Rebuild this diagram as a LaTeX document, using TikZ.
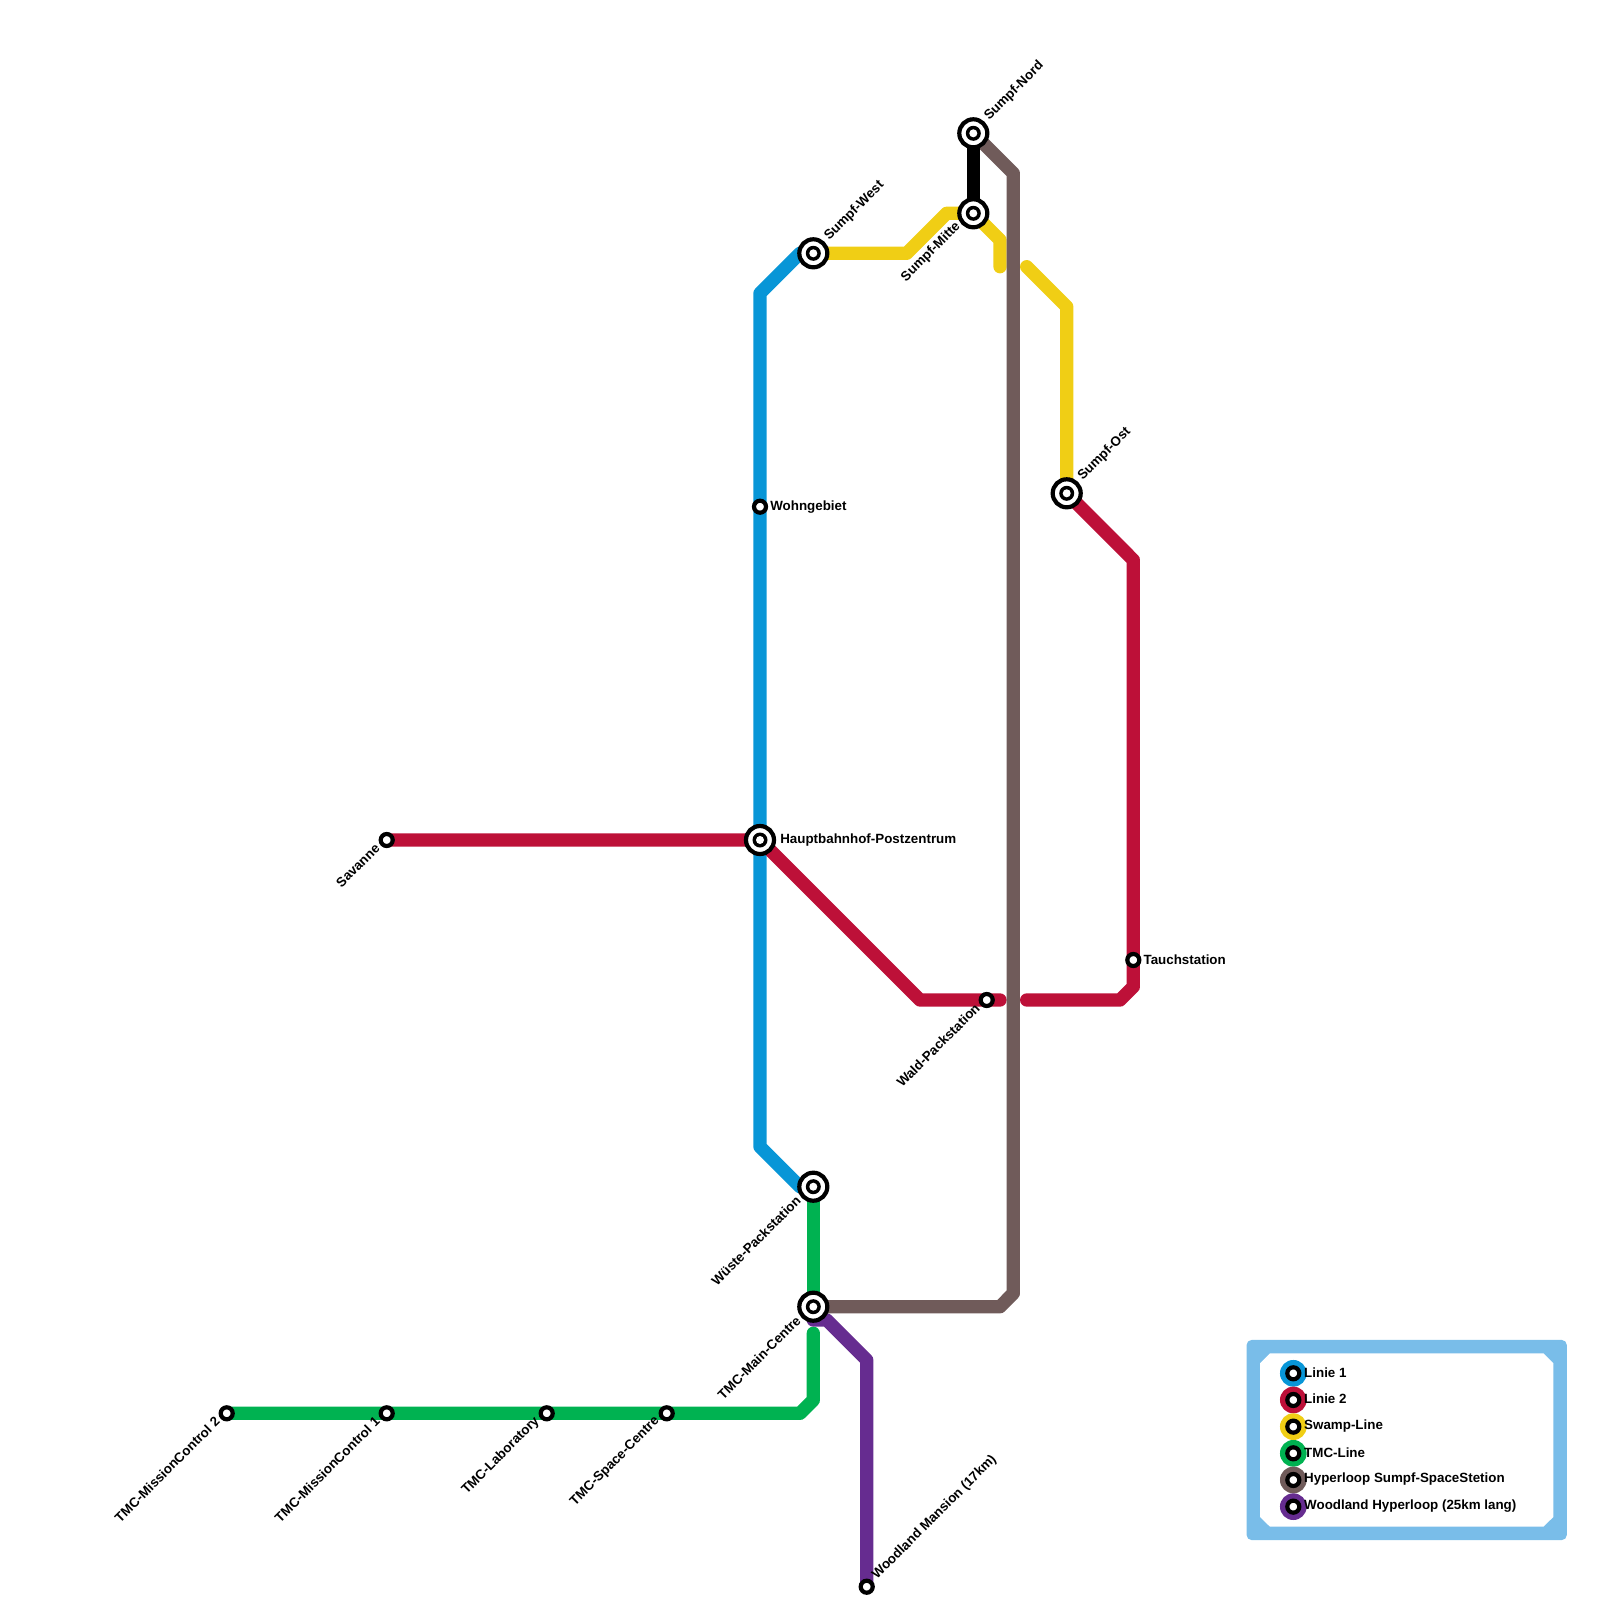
\documentclass[tikz,border=0pt]{standalone}
\usepackage{fontspec}
\setmainfont{Liberation Sans}
\usepackage{xcolor}
\definecolor{lnblue}{RGB}{8,150,215}
\definecolor{lnred}{RGB}{189,16,56}
\definecolor{lnyellow}{RGB}{240,206,21}
\definecolor{lngreen}{RGB}{0,178,81}
\definecolor{lnbrown}{RGB}{112,91,90}
\definecolor{lnpurple}{RGB}{102,44,144}
\definecolor{lnframe}{RGB}{121,189,233}
\usetikzlibrary{calc}
\pgfdeclarelayer{lines}
\pgfsetlayers{lines,main}

\begin{document}
\begin{tikzpicture}[
  x=0.01cm, y=-0.01cm,
  font=\fontsize{3.8}{4.2}\selectfont\bfseries,
  track/.style={line width=0.1333cm, line cap=round, line join=round},
  stat/.style={circle, draw=black, fill=white, line width=0.042cm, minimum size=0.12cm, inner sep=0pt},
  hub/.style={circle, draw=black, fill=white, line width=0.042cm, minimum size=0.28cm, inner sep=0pt,
    path picture={\fill[black] (path picture bounding box.center) circle (0.075cm);
      \fill[white] (path picture bounding box.center) circle (0.04cm);}},
  legdot/.style={circle, fill=#1, minimum size=0.2667cm, inner sep=0pt},
  labne/.style={rotate=45, yshift=-0.025cm, anchor=west, inner sep=0pt, label distance=0.05cm},
  labsw/.style={rotate=45, yshift=0.045cm, anchor=east, inner sep=0pt, label distance=0.03cm},
  labe/.style={anchor=west, inner sep=0pt, label distance=0.035cm},
  labs/.style={anchor=west, inner sep=0pt, label distance=0.015cm}]

  \useasboundingbox (0,0) rectangle (1600,1600);

  % --- interchange stations ---
  \node[hub, label={[labne]45:Sumpf-Nord}]  (nord)  at (973.3,133.3) {};
  \node[hub, label={[labsw]225:Sumpf-Mitte}] (mitte) at (973.3,213.3) {};
  \node[hub, label={[labne]45:Sumpf-West}]  (west)  at (813.3,253.3) {};
  \node[hub, label={[labne]45:Sumpf-Ost}]   (ost)   at (1066.7,493.3) {};
  \node[hub, label={[labe]0:Hauptbahnhof-Postzentrum}] (haupt) at (760,840) {};
  \node[hub, label={[labsw]225:Wüste-Packstation}] (wueste) at (813.3,1186.7) {};
  \node[hub, label={[labsw]225:TMC-Main-Centre}]   (main)   at (813.3,1306.7) {};

  % --- plain stations ---
  \node[stat, label={[labs]0:Wohngebiet}]   (wohn)  at (760,506.7) {};
  \node[stat, label={[labsw]225:Savanne}]   (sav)   at (386.7,840) {};
  \node[stat, label={[labs]0:Tauchstation}] (tauch) at (1133.3,960) {};
  \node[stat, label={[labsw]225:Wald-Packstation}] (wald) at (986.7,1000) {};
  \node[stat, label={[labsw]225:TMC-MissionControl 2}] (mc2) at (226.7,1413.3) {};
  \node[stat, label={[labsw]225:TMC-MissionControl 1}] (mc1) at (386.7,1413.3) {};
  \node[stat, label={[labsw]225:TMC-Laboratory}]    (lab)   at (546.7,1413.3) {};
  \node[stat, label={[labsw]225:TMC-Space-Centre}]  (space) at (666.7,1413.3) {};
  \node[stat, label={[labne]45:Woodland Mansion (17km)}] (wood) at (866.7,1586.7) {};

  % --- free line ends at the gaps ---
  \coordinate (ylwA) at (1000,266.7);
  \coordinate (ylwB) at (1026.7,266.7);
  \coordinate (redA) at (1000,1000);
  \coordinate (redB) at (1026.7,1000);
  \coordinate (grnA) at (813.3,1333.3);

  % --- lines ---
  \begin{pgfonlayer}{lines}
    \draw[track, lnblue] (west.center) -- (800,253.3) -- (760,293.3) -- (haupt.center)
      -- (760,1146.7) -- (800,1186.7) -- (wueste.center);
    \draw[track, lnred] (sav.center) -- (haupt.center) -- (920,1000) -- (redA);
    \draw[track, lnred] (redB) -- (1120,1000) -- (1133.3,986.7) -- (1133.3,560) -- (ost.center);
    \draw[track, lnyellow] (west.center) -- (906.7,253.3) -- (946.7,213.3) -- (mitte.center)
      -- (1000,240) -- (ylwA);
    \draw[track, lnyellow] (ylwB) -- (1066.7,306.7) -- (ost.center);
    \draw[track, lngreen] (wueste.center) -- (main.center);
    \draw[track, lngreen] (grnA) -- (813.3,1400) -- (800,1413.3) -- (mc2.center);
    \draw[track, lnpurple] (main.center) -- (813.3,1320) -- (826.7,1320) -- (866.7,1360) -- (wood.center);
    \draw[track, lnbrown] (nord.center) -- (1013.3,173.3) -- (1013.3,1293.3) -- (1000,1306.7) -- (main.center);
    \draw[track, black] (nord.center) -- (mitte.center);
  \end{pgfonlayer}

  % --- legend ---
  \node[fill=lnframe, rounded corners=0.05cm, minimum width=3.2cm, minimum height=2cm, inner sep=0pt] (frame) at (1406.7,1440) {};
  \fill[white] (1270,1353.3) -- (1543.3,1353.3) -- (1553.3,1363.3) -- (1553.3,1517) -- (1543.3,1526.7)
    -- (1270,1526.7) -- (1260,1517) -- (1260,1363.3) -- cycle;
  \foreach \i/\c/\t in {0/lnblue/Linie 1, 1/lnred/Linie 2, 2/lnyellow/Swamp-Line, 3/lngreen/TMC-Line,
      4/lnbrown/Hyperloop Sumpf-SpaceStetion, 5/lnpurple/Woodland Hyperloop (25km lang)} {
    \node[legdot=\c] (dot\i) at (1293.3,1373.3+26.67*\i) {};
    \node[stat] (pin\i) at (dot\i) {};
    \node[anchor=west, inner sep=0pt] (txt\i) at (1303.5,1372.5+26.67*\i) {\t};
  }
\end{tikzpicture}
\end{document}
